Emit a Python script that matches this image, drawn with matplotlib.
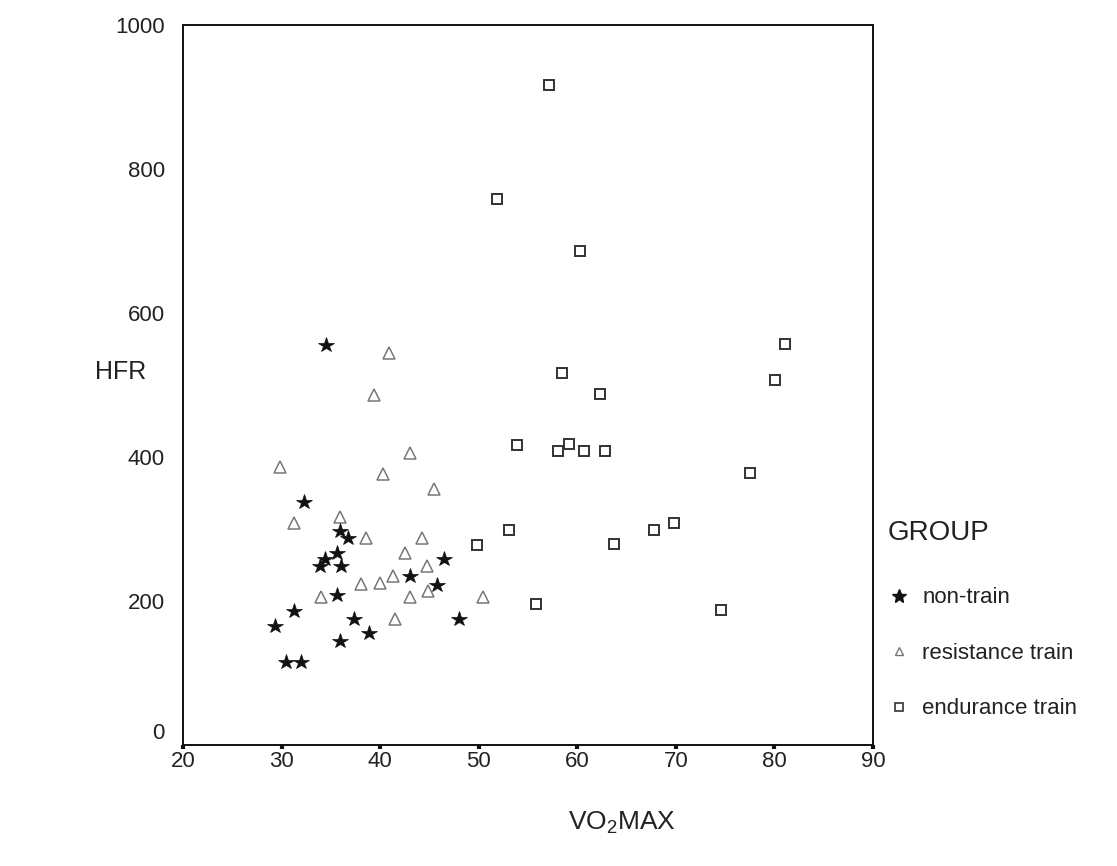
import matplotlib
matplotlib.use('Agg')
import matplotlib.pyplot as plt
import matplotlib.transforms as mtransforms
from matplotlib.lines import Line2D

plt.rcParams['font.family'] = ['Liberation Sans', 'DejaVu Sans']
plt.rcParams['mathtext.fontset'] = 'custom'
plt.rcParams['mathtext.rm'] = 'Liberation Sans'

# Data
nontrain_vo2 = [34.5, 32.3, 35.9, 36.7, 35.6, 34.4, 33.9, 36.0, 46.5, 43.0,
                45.8, 35.6, 31.3, 29.3, 37.3, 48.0, 38.9, 35.9, 30.5, 32.0]
nontrain_hfr = [556, 337, 297, 287, 267, 258, 248, 248, 258, 235,
                222, 209, 186, 166, 175, 175, 155, 145, 115, 115]

resist_vo2 = [40.9, 39.4, 29.8, 43.0, 40.3, 45.5, 35.9, 31.3, 38.6, 44.2,
              42.5, 44.8, 41.3, 38.1, 40.0, 44.9, 34.0, 43.0, 50.4, 41.5]
resist_hfr = [545, 486, 386, 406, 376, 355, 317, 308, 287, 288,
              267, 248, 235, 223, 225, 214, 205, 205, 205, 175]

endur_vo2 = [57.1, 51.9, 60.3, 81.1, 80.1, 58.4, 62.3, 53.9, 58.0, 59.2,
             60.7, 62.8, 77.5, 53.1, 49.8, 67.8, 69.8, 63.7, 55.8, 74.6]
endur_hfr = [917, 759, 686, 557, 507, 517, 487, 417, 408, 418,
             408, 408, 378, 298, 278, 299, 309, 279, 196, 187]

x_ticks = [20, 30, 40, 50, 60, 70, 80, 90]
y_ticks = [0, 200, 400, 600, 800, 1000]
group_labels = ['non-train', 'resistance train', 'endurance train']

text_col = '#222222'

fig = plt.figure(figsize=(11.17, 8.66), dpi=100)
ax = fig.add_axes([0.1638, 0.1397, 0.6178, 0.8313])

ax.plot(endur_vo2, endur_hfr, linestyle='none', marker='s', markersize=7.5,
        markerfacecolor='none', markeredgecolor='#333333', markeredgewidth=1.4)
ax.plot(resist_vo2, resist_hfr, linestyle='none', marker='^', markersize=8,
        markerfacecolor='none', markeredgecolor='#777777', markeredgewidth=1.1)
ax.plot(nontrain_vo2, nontrain_hfr, linestyle='none', marker='*', markersize=11.5,
        markerfacecolor='#111111', markeredgecolor='#111111', markeredgewidth=0.5)

ax.set_xlim(20, 90)
ax.set_ylim(0, 1000)
ax.set_xticks(x_ticks)
ax.set_yticks(y_ticks)
ax.tick_params(axis='x', direction='out', length=3, width=3, color='#111111',
               labelsize=16, labelcolor=text_col, pad=1)
ax.tick_params(axis='y', length=0, labelsize=16, labelcolor=text_col, pad=13)
for sp in ax.spines.values():
    sp.set_linewidth(1.4)
    sp.set_color('#111111')

# the "0" label sits a little above the axis line in the reference
lbl0 = ax.get_yticklabels()[0]
lbl0.set_transform(lbl0.get_transform() +
                   mtransforms.ScaledTranslation(0, 14 / 100, fig.dpi_scale_trans))

fig.text(0.108, 0.57, 'HFR', fontsize=18, color=text_col, ha='center', va='center')
fig.text(0.557, 0.05, r'VO$_\mathrm{2}$MAX', fontsize=19, color=text_col,
         ha='center', va='center')

handles = [
    Line2D([], [], linestyle='none', marker='*', markersize=10,
           markerfacecolor='#111111', markeredgecolor='#111111'),
    Line2D([], [], linestyle='none', marker='^', markersize=6,
           markerfacecolor='none', markeredgecolor='#777777', markeredgewidth=1.0),
    Line2D([], [], linestyle='none', marker='s', markersize=5.5,
           markerfacecolor='none', markeredgecolor='#333333', markeredgewidth=1.2),
]
leg = fig.legend(handles, group_labels, loc='upper left',
                 bbox_to_anchor=(0.787, 0.41), frameon=False, fontsize=16,
                 title='GROUP', title_fontsize=20, labelspacing=1.55,
                 handletextpad=0.55, handlelength=1.0, borderaxespad=0)
leg._legend_box.align = 'left'
leg._legend_box.sep = 30
for t in leg.get_texts():
    t.set_color(text_col)
leg.get_title().set_color(text_col)

fig.savefig('out.png', dpi=100, facecolor='white')
